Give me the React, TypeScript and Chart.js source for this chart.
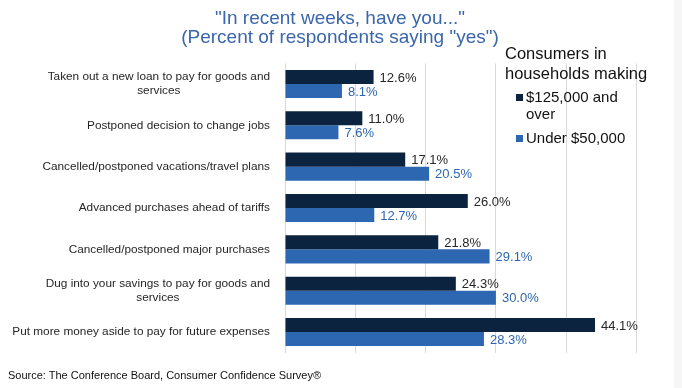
import React, { useEffect, useRef } from "react";
import { Chart, registerables } from "chart.js";

Chart.register(...registerables);

const categories: string[][] = [
  ["Taken out a new loan to pay for goods and", "services"],
  ["Postponed decision to change jobs"],
  ["Cancelled/postponed vacations/travel plans"],
  ["Advanced purchases ahead of tariffs"],
  ["Cancelled/postponed major purchases"],
  ["Dug into your savings to pay for goods and", "services"],
  ["Put more money aside to pay for future expenses"],
];
const highIncome: number[] = [12.6, 11.0, 17.1, 26.0, 21.8, 24.3, 44.1];
const lowIncome: number[] = [8.1, 7.6, 20.5, 12.7, 29.1, 30.0, 28.3];
const seriesNames: string[] = ["$125,000 and over", "Under $50,000"];
const titleLines: string[] = ['"In recent weeks, have you..."', '(Percent of respondents saying "yes")'];
const legendTitle: string[] = ["Consumers in", "households making"];
const sourceText = "Source: The Conference Board, Consumer Confidence Survey®";

const DARK = "#0C2340";
const BLUE = "#2E67B1";
const FONT = '"Liberation Sans", Arial, sans-serif';

const labelPlugin = {
  id: "customLabels",
  afterDraw(chart: any) {
    const ctx = chart.ctx;
    const yScale = chart.scales.y;
    ctx.save();
    // category labels
    ctx.font = `11.8px ${FONT}`;
    ctx.fillStyle = "#262626";
    ctx.textBaseline = "middle";
    ctx.textAlign = "center";
    const rightX = 270;
    const lh = 14;
    categories.forEach((lines, i) => {
      const yc = yScale.getPixelForValue(i);
      const w = Math.max(...lines.map((l) => ctx.measureText(l).width));
      const cx = rightX - w / 2;
      const y0 = yc - ((lines.length - 1) * lh) / 2;
      lines.forEach((l, j) => ctx.fillText(l, cx, y0 + j * lh));
    });
    // value labels
    ctx.font = `13px ${FONT}`;
    ctx.textAlign = "left";
    chart.data.datasets.forEach((ds: any, di: number) => {
      const meta = chart.getDatasetMeta(di);
      ctx.fillStyle = di === 0 ? "#262626" : BLUE;
      meta.data.forEach((el: any, i: number) => {
        ctx.fillText(ds.data[i].toFixed(1) + "%", el.x + 6, el.y + 1);
      });
    });
    ctx.restore();
  },
};

export default function App() {
  const ref = useRef<HTMLCanvasElement | null>(null);
  useEffect(() => {
    if (!ref.current) return;
    const chart = new Chart(ref.current, {
      type: "bar",
      data: {
        labels: categories.map((c) => c.join(" ")),
        datasets: [
          { label: seriesNames[0], data: highIncome, backgroundColor: DARK, categoryPercentage: 0.68, barPercentage: 1 },
          { label: seriesNames[1], data: lowIncome, backgroundColor: BLUE, categoryPercentage: 0.68, barPercentage: 1 },
        ],
      },
      options: {
        indexAxis: "y",
        responsive: false,
        animation: false,
        layout: { padding: { left: 285, right: 45.5, top: 63.3, bottom: 35.3 } },
        plugins: { legend: { display: false }, tooltip: { enabled: false }, title: { display: false } },
        scales: {
          x: {
            min: 0,
            max: 50,
            ticks: { display: false, stepSize: 10 },
            grid: { color: "#D9D9D9", drawTicks: false, lineWidth: 1 },
            border: { display: false },
            afterFit: (s: any) => { s.height = 0; },
          },
          y: {
            display: false,
            afterFit: (s: any) => { s.width = 0; },
          },
        },
      },
      plugins: [labelPlugin],
    });
    return () => chart.destroy();
  }, []);

  return (
    <div style={{ position: "fixed", left: 0, top: 0, width: 682, height: 388, background: "#fff", fontFamily: FONT, overflow: "hidden" }}>
      <div style={{ position: "absolute", left: 674, top: 0, width: 8, height: 388, background: "#F6F6F6" }} />
      <canvas ref={ref} width={682} height={388} style={{ position: "absolute", left: 0, top: 0 }} />
      <div style={{ position: "absolute", left: 0, top: 8, width: 680, textAlign: "center", color: "#3A66AC", fontSize: 19, lineHeight: "19px" }}>
        {titleLines.map((t, i) => (
          <div key={i}>{t}</div>
        ))}
      </div>
      <div style={{ position: "absolute", left: 505, top: 43, color: "#111", fontSize: 16.5, lineHeight: "20px", whiteSpace: "nowrap" }}>
        {legendTitle.map((t, i) => (
          <div key={i}>{t}</div>
        ))}
      </div>
      <div style={{ position: "absolute", left: 516, top: 88, color: "#111", fontSize: 15, lineHeight: "17px" }}>
        <div style={{ display: "flex", alignItems: "flex-start" }}>
          <div style={{ width: 7, height: 7, background: DARK, marginTop: 6, marginRight: 3 }} />
          <div>$125,000 and<br />over</div>
        </div>
        <div style={{ display: "flex", alignItems: "flex-start", marginTop: 7 }}>
          <div style={{ width: 7, height: 7, background: BLUE, marginTop: 6, marginRight: 3 }} />
          <div>Under $50,000</div>
        </div>
      </div>
      <div style={{ position: "absolute", left: 8, top: 369, color: "#111", fontSize: 11, whiteSpace: "nowrap" }}>{sourceText}</div>
    </div>
  );
}
